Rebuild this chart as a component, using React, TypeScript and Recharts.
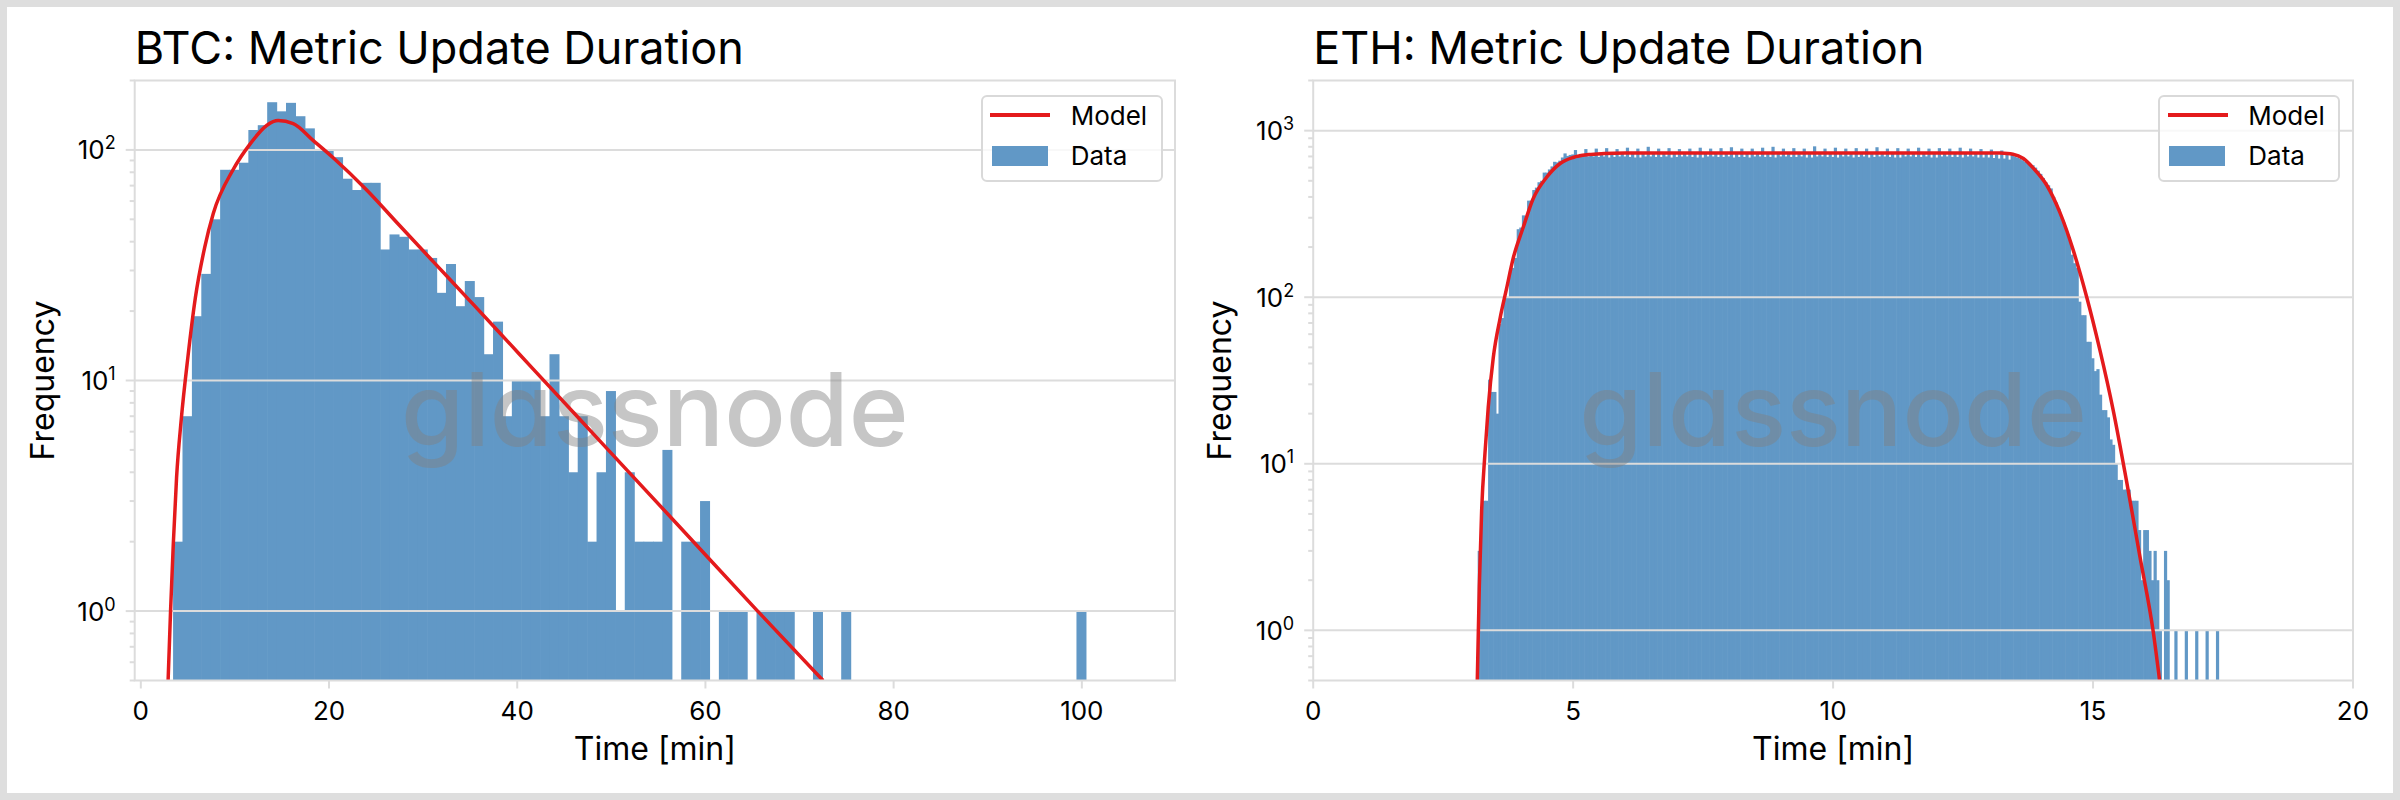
import React from 'react';
import {
  ComposedChart,
  Bar,
  Line,
  XAxis,
  YAxis,
  ReferenceLine,
  ReferenceDot,
  ReferenceArea,
  Legend,
} from 'recharts';

const FONT = 'Inter, "Noto Sans", "DejaVu Sans", sans-serif';
const BAR_COLOR = '#6198c6';
const LINE_COLOR = '#e41a1c';
const GRID_COLOR = '#dcdcdc';
const LEGEND_BORDER = '#d9d9d9';
const FRAME_COLOR = '#dedede';

const WATERMARK_TEXT = 'glassnode';
const X_LABEL = 'Time [min]';
const Y_LABEL = 'Frequency';
const LEGEND_MODEL = 'Model';
const LEGEND_DATA = 'Data';

// ---------------- BTC ----------------
const BTC_TITLE = 'BTC: Metric Update Duration';
const BTC_BIN_START = 3.45;
const BTC_BIN_WIDTH = 1.0;
const BTC_COUNTS: (number | null)[] = [
  2, 7, 19, 29, 50, 82, 82, 88, 122, 128,
  161, 147, 160, 140, 124, 100, 100, 93, 75, 67,
  72, 72, 37, 43, 42, 37, 37, 34, 24, 32,
  21, 27, 23, 13, 18, 7, 10, 10, 10, 7,
  13, 7, 4, 7, 2, 4, 9, 1, 4, 2,
  2, 2, 5, null, 2, 2, 3, null, 1, 1,
  1, null, 1, 1, 1, 1, null, null, 1, null,
  null, 1, null, null, null, null, null, null, null, null,
  null, null, null, null, null, null, null, null, null, null,
  null, null, null, null, null, null, 1,
];
const BTC_MODEL_X = [
  2.9, 3.16, 3.45, 3.8, 4.3, 5.0, 5.8, 6.8, 7.7, 9.8, 11.6, 13.4, 14.6,
  16.2, 18.3, 20.5, 24, 27.5, 31.1, 34.6, 38.2, 41.7, 48.8, 57.3, 65.45, 72.5,
];
const BTC_MODEL_Y = [
  0.5, 1.0, 1.95, 3.8, 6.8, 12.6, 22.9, 38, 53, 82, 106, 128, 134,
  130, 110, 92, 67, 47, 32.7, 23, 16, 11.2, 5.46, 2.31, 1.01, 0.5,
];
const BTC_X_DOMAIN: [number, number] = [-0.65, 109.9];
const BTC_X_TICKS = [0, 20, 40, 60, 80, 100];
const BTC_Y_DOMAIN: [number, number] = [0.5, 200];
const BTC_Y_MAJOR = [1, 10, 100];
const BTC_Y_MINOR = [
  0.5, 0.6, 0.7, 0.8, 0.9, 2, 3, 4, 5, 6, 7, 8, 9,
  20, 30, 40, 50, 60, 70, 80, 90, 200,
];

// ---------------- ETH ----------------
const ETH_TITLE = 'ETH: Metric Update Duration';
const ETH_BIN_START = 3.16;
const ETH_BIN_WIDTH = 0.05;
const ETH_COUNTS: (number | null)[] = [
  // rise
  3, 5, 6, 6, 32, 27, 27, 20, 69, 75,
  99, 99, 143, 150, 172, 256, 262, 310, 305, 380,
  380, 440, 455, 490, 500, 560, 560, 585, 610, 650,
  645, 660, 690, 730, 705, 715, 720, 765, 705, 725,
  715, 775, 700, 730, 700,
  // plateau
  780, 695, 735, 700, 785, 690, 730, 695, 775, 700, 740, 700, 790, 695, 735, 690,
  780, 690, 735, 700, 800, 700, 740, 695, 780, 695, 730, 700, 785, 690, 735, 695,
  775, 700, 735, 700, 780, 695, 740, 690, 790, 690, 735, 700, 780, 700, 730, 695,
  785, 695, 735, 700, 795, 690, 740, 695, 780, 695, 735, 690, 780, 700, 735, 700,
  790, 695, 730, 695, 800, 690, 740, 700, 780, 700, 735, 695, 785, 695, 735, 700,
  780, 690, 730, 690, 805, 700, 740, 700, 780, 695, 735, 695, 790, 690, 735, 700,
  780, 700, 740, 690, 785, 695, 730, 700, 780, 690, 735, 695, 795, 700, 740, 700,
  780, 695, 735, 690, 785, 690, 730, 700, 780, 700, 735, 695, 790, 695, 740, 700,
  780, 690, 735, 690, 785, 700, 730, 700, 780, 695, 735, 695, 790, 690, 740, 700,
  780, 700, 735, 690, 775, 690, 725, 690, 770, 685, 720, 680, 760, 680, 715, 670,
  // fall
  720, 700, 690, 680, 665, 650, 640, 630, 620, 600,
  575, 550, 520, 490, 470, 450, 400, 370, 340, 300,
  280, 245, 230, 180, 160, 150, 94, 78, 78, 54,
  54, 43, 36, 37, 26, 21, 21, 19, 14, 13,
  10, 8, 8, 7, 7, 7, 6, 6, 6, 4,
  2, 4, 4, 3, 2, 3, 2, 1, null, 3,
  2, null, null, 1, null, null, null, 1, null, null,
  null, 1, null, null, null, 1, null, null, null, 1,
];
const ETH_MODEL_X = [
  3.156, 3.195, 3.24, 3.304, 3.367, 3.464, 3.592, 3.72, 3.848, 4.04, 4.23,
  4.49, 4.75, 5.0, 5.3, 5.6, 6.0, 7.0, 9.0, 11.0, 13.0, 13.21, 13.46, 13.66,
  13.85, 14.11, 14.36, 14.62, 14.875, 15.13, 15.39, 15.64, 15.9, 16.16, 16.28,
];
const ETH_MODEL_Y = [
  0.5, 1.83, 5.25, 11.6, 21.9, 43.5, 74, 113, 172, 263, 390,
  525, 635, 690, 718, 728, 733, 735, 735, 735, 735, 733, 722, 680,
  596, 470, 324, 191, 101, 48.4, 20.8, 8.0, 2.79, 0.97, 0.5,
];
const ETH_X_DOMAIN: [number, number] = [0, 20];
const ETH_X_TICKS = [0, 5, 10, 15, 20];
const ETH_Y_DOMAIN: [number, number] = [0.5, 2000];
const ETH_Y_MAJOR = [1, 10, 100, 1000];
const ETH_Y_MINOR = [
  0.5, 0.6, 0.7, 0.8, 0.9, 2, 3, 4, 5, 6, 7, 8, 9,
  20, 30, 40, 50, 60, 70, 80, 90, 200, 300, 400, 500, 600, 700, 800, 900, 2000,
];

// ---------------- layout constants ----------------
const PANEL_W = 1200;
const PANEL_H = 800;
const PLOT_TOP = 80.5;
const PLOT_BOTTOM = 680.5;
const X_AXIS_H = 100;
const Y_TICK_SIZE = 9;
const Y_TICK_MARGIN = 10;

const LogTick = (props: any) => {
  const { x, y, payload } = props;
  const v = payload.value;
  const lg = Math.log10(v);
  const exp = Math.round(lg);
  const isMajor = Math.abs(lg - exp) < 1e-9;
  const axisX = x + Y_TICK_SIZE + Y_TICK_MARGIN;
  const len = isMajor ? 9 : 5;
  return (
    <g>
      <line x1={axisX - len} x2={axisX} y1={y} y2={y} stroke={GRID_COLOR} strokeWidth={2} />
      {isMajor && (
        <text x={x} y={y} dy={9.5} textAnchor="end" fontSize={26} fontFamily={FONT} fill="#000">
          <tspan>10</tspan>
          <tspan dy={-10} fontSize={18}>{String(exp)}</tspan>
        </text>
      )}
    </g>
  );
};

const LegendBox = () => (
  <div
    style={{
      position: 'relative',
      width: 182,
      height: 87,
      boxSizing: 'border-box',
      border: `2px solid ${LEGEND_BORDER}`,
      borderRadius: 6,
      background: 'rgba(255,255,255,0.8)',
      fontFamily: FONT,
      fontSize: 26,
      lineHeight: 1,
      color: '#000',
    }}
  >
    <div style={{ position: 'absolute', left: 7.3, top: 16, width: 60, height: 4, background: LINE_COLOR }} />
    <div style={{ position: 'absolute', left: 88, top: 6, whiteSpace: 'nowrap' }}>{LEGEND_MODEL}</div>
    <div style={{ position: 'absolute', left: 9, top: 49, width: 56, height: 20, background: BAR_COLOR }} />
    <div style={{ position: 'absolute', left: 88, top: 46, whiteSpace: 'nowrap' }}>{LEGEND_DATA}</div>
  </div>
);

type PanelProps = {
  left: number;
  title: string;
  binStart: number;
  binWidth: number;
  counts: (number | null)[];
  modelX: number[];
  modelY: number[];
  xDomain: [number, number];
  xTicks: number[];
  yDomain: [number, number];
  yMajor: number[];
  yMinor: number[];
  plotLeft: number;
  plotRight: number;
  yLabelOffset: number;
  legendLeft: number;
};

function Panel(p: PanelProps) {
  const marginRight = PANEL_W - p.plotRight;
  const marginBottom = PANEL_H - PLOT_BOTTOM - X_AXIS_H;
  const pxPerUnit = (p.plotRight - p.plotLeft) / (p.xDomain[1] - p.xDomain[0]);
  const barPx = p.binWidth * pxPerUnit;
  const rows = p.counts.map((c, i) => ({ x: p.binStart + p.binWidth * (i + 0.5), count: c }));
  const modelRows = p.modelX.map((x, i) => ({ x, y: p.modelY[i] }));
  const yTicks = [...p.yMinor, ...p.yMajor].sort((a, b) => a - b);
  const wmX = (p.xDomain[0] + p.xDomain[1]) / 2;
  const wmY = Math.sqrt(p.yDomain[0] * p.yDomain[1]);

  const HistShape = (props: any) => {
    const { x, y, width, height, payload } = props;
    if (payload == null || payload.count == null || !(height > 0)) return <g />;
    const cx = x + width / 2;
    return <rect x={cx - barPx / 2} y={y} width={barPx + 0.6} height={height} fill={BAR_COLOR} />;
  };

  const Watermark = (lp: any) => {
    const vb = lp.viewBox || {};
    const cx = vb.x + (vb.width || 0) / 2;
    const cy = vb.y + (vb.height || 0) / 2;
    return (
      <text
        x={cx}
        y={cy}
        dy={65.5}
        textAnchor="middle"
        fontSize={102}
        fontWeight={500}
        fontFamily={FONT}
        fill="#808080"
        fillOpacity={0.45}
        style={{ fontFeatureSettings: '"cv11"' }}
      >
        {WATERMARK_TEXT}
      </text>
    );
  };

  return (
    <div style={{ position: 'absolute', left: p.left, top: 0, width: PANEL_W, height: PANEL_H }}>
      <ComposedChart
        width={PANEL_W}
        height={PANEL_H}
        data={rows}
        margin={{ top: PLOT_TOP, right: marginRight, bottom: marginBottom, left: 0 }}
        barCategoryGap={0}
        barGap={0}
      >
        <XAxis
          type="number"
          dataKey="x"
          domain={p.xDomain}
          allowDataOverflow
          ticks={p.xTicks}
          interval={0}
          height={X_AXIS_H}
          axisLine={false}
          tickSize={8}
          tickMargin={13}
          tickLine={{ stroke: GRID_COLOR, strokeWidth: 2 }}
          tick={{ fontSize: 26, fill: '#000', fontFamily: FONT }}
          label={{ value: X_LABEL, position: 'insideBottom', offset: 20.5, fontSize: 32, fill: '#000', fontFamily: FONT }}
        />
        <XAxis xAxisId="model" type="number" dataKey="x" domain={p.xDomain} allowDataOverflow hide />
        <YAxis
          type="number"
          scale="log"
          domain={p.yDomain}
          allowDataOverflow
          ticks={yTicks}
          interval={0}
          width={p.plotLeft}
          axisLine={false}
          tickLine={false}
          tickSize={Y_TICK_SIZE}
          tickMargin={Y_TICK_MARGIN}
          tick={<LogTick />}
          label={{
            value: Y_LABEL,
            angle: -90,
            position: 'insideLeft',
            offset: p.yLabelOffset,
            fontSize: 32,
            fill: '#000',
            fontFamily: FONT,
            style: { textAnchor: 'middle' },
          }}
        />
        <Bar
          dataKey="count"
          name={LEGEND_DATA}
          fill={BAR_COLOR}
          shape={HistShape}
          isAnimationActive={false}
          zIndex={300}
        />
        {p.yMajor.map((v) => (
          <ReferenceLine key={v} y={v} stroke={GRID_COLOR} strokeWidth={2} zIndex={350} />
        ))}
        <ReferenceDot x={wmX} y={wmY} r={1} fill="none" stroke="none" zIndex={360} label={Watermark} />
        <Line
          xAxisId="model"
          data={modelRows}
          dataKey="y"
          type="monotone"
          stroke={LINE_COLOR}
          strokeWidth={3.5}
          dot={false}
          activeDot={false}
          isAnimationActive={false}
          name={LEGEND_MODEL}
          zIndex={400}
        />
        <ReferenceArea
          x1={p.xDomain[0]}
          x2={p.xDomain[1]}
          y1={p.yDomain[0]}
          y2={p.yDomain[1]}
          fill="none"
          fillOpacity={0}
          stroke={GRID_COLOR}
          strokeWidth={2}
          ifOverflow="visible"
          zIndex={600}
        />
        <Legend
          layout="vertical"
          align="center"
          verticalAlign="middle"
          wrapperStyle={{ left: p.legendLeft, top: 95, width: 182, height: 87 }}
          content={() => <LegendBox />}
        />
      </ComposedChart>
      <div
        style={{
          position: 'absolute',
          left: p.plotLeft,
          top: 25,
          fontFamily: FONT,
          fontSize: 45,
          lineHeight: 1,
          color: '#000',
          whiteSpace: 'nowrap',
        }}
      >
        {p.title}
      </div>
    </div>
  );
}

export default function App() {
  return (
    <div style={{ position: 'absolute', left: 0, top: 0, width: 2400, height: 800, background: FRAME_COLOR }}>
      <div style={{ position: 'absolute', left: 7, top: 7, width: 2386, height: 786, background: '#ffffff' }} />
      <Panel
        left={0}
        title={BTC_TITLE}
        binStart={BTC_BIN_START}
        binWidth={BTC_BIN_WIDTH}
        counts={BTC_COUNTS}
        modelX={BTC_MODEL_X}
        modelY={BTC_MODEL_Y}
        xDomain={BTC_X_DOMAIN}
        xTicks={BTC_X_TICKS}
        yDomain={BTC_Y_DOMAIN}
        yMajor={BTC_Y_MAJOR}
        yMinor={BTC_Y_MINOR}
        plotLeft={134.7}
        plotRight={1175}
        yLabelOffset={42.5}
        legendLeft={980.7}
      />
      <Panel
        left={1200}
        title={ETH_TITLE}
        binStart={ETH_BIN_START}
        binWidth={ETH_BIN_WIDTH}
        counts={ETH_COUNTS}
        modelX={ETH_MODEL_X}
        modelY={ETH_MODEL_Y}
        xDomain={ETH_X_DOMAIN}
        xTicks={ETH_X_TICKS}
        yDomain={ETH_Y_DOMAIN}
        yMajor={ETH_Y_MAJOR}
        yMinor={ETH_Y_MINOR}
        plotLeft={113.2}
        plotRight={1153}
        yLabelOffset={19.6}
        legendLeft={958.3}
      />
    </div>
  );
}
